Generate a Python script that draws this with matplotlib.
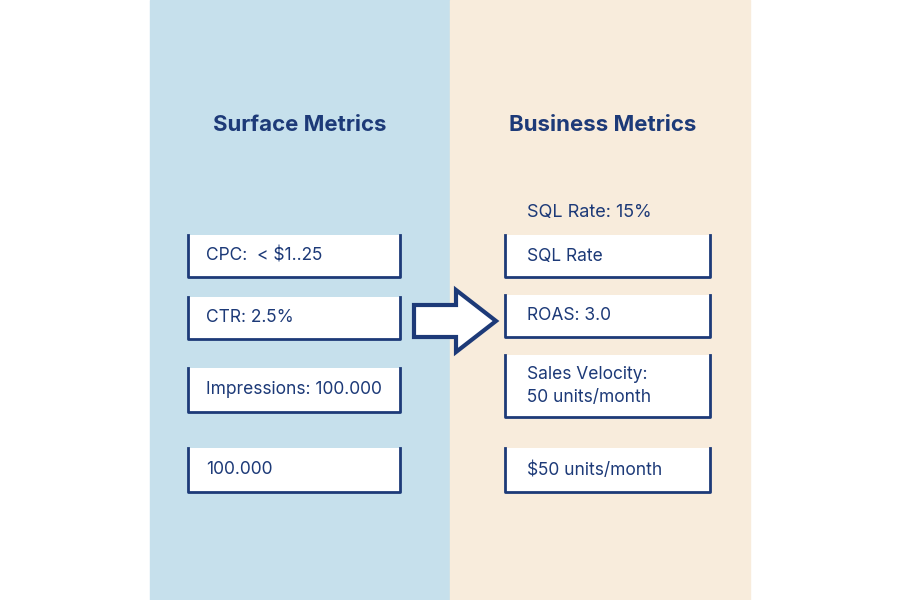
import matplotlib
matplotlib.use("Agg")
import matplotlib.pyplot as plt
from matplotlib.patches import Rectangle, FancyArrow

panel_titles = ["Surface Metrics", "Business Metrics"]
left_labels = ["CPC:  < $1..25", "CTR: 2.5%", "Impressions: 100.000", "100.000"]
right_labels = ["SQL Rate", "ROAS: 3.0", "Sales Velocity:\n50 units/month", "$50 units/month"]
right_header = "SQL Rate: 15%"

left_boxes = [(235, 42), (297, 42), (368, 44), (448, 44)]
right_boxes = [(235, 42), (295, 42), (355, 62), (448, 44)]

NAVY = "#1d3a78"
fig = plt.figure(figsize=(9, 6), dpi=100)
ax = fig.add_axes([0, 0, 1, 1])
ax.set_xlim(0, 900); ax.set_ylim(600, 0); ax.axis("off")

ax.add_patch(Rectangle((150, 0), 300, 600, color="#c6e0ec", zorder=0))
ax.add_patch(Rectangle((450, 0), 300, 600, color="#f8ecdc", zorder=0))

ax.text(300, 125, panel_titles[0], ha="center", va="center", fontsize=16, fontweight="bold", color=NAVY, family="Inter")
ax.text(603, 125, panel_titles[1], ha="center", va="center", fontsize=16, fontweight="bold", color=NAVY, family="Inter")
ax.text(527, 213, right_header, ha="left", va="center", fontsize=13, color=NAVY, family="Inter")

def box(x, w, y, h, label, tx):
    ax.add_patch(Rectangle((x, y), w, h, facecolor="white", edgecolor="none", zorder=2))
    ax.plot([x, x, x + w, x + w], [y, y + h, y + h, y], color=NAVY, lw=2, zorder=3)
    ax.text(tx, y + h / 2, label, ha="left", va="center", fontsize=12.5, color=NAVY,
            family="Inter", linespacing=1.5, zorder=4)

for (y, h), lab in zip(left_boxes, left_labels):
    box(188, 212, y, h, lab, 206)
for (y, h), lab in zip(right_boxes, right_labels):
    box(505, 205, y, h, lab, 527)

ax.add_patch(FancyArrow(414, 321, 42, 0, width=32, head_width=62, head_length=40,
                        length_includes_head=False, facecolor="white", edgecolor=NAVY,
                        lw=3, zorder=5))
fig.savefig("out.png", dpi=100)
